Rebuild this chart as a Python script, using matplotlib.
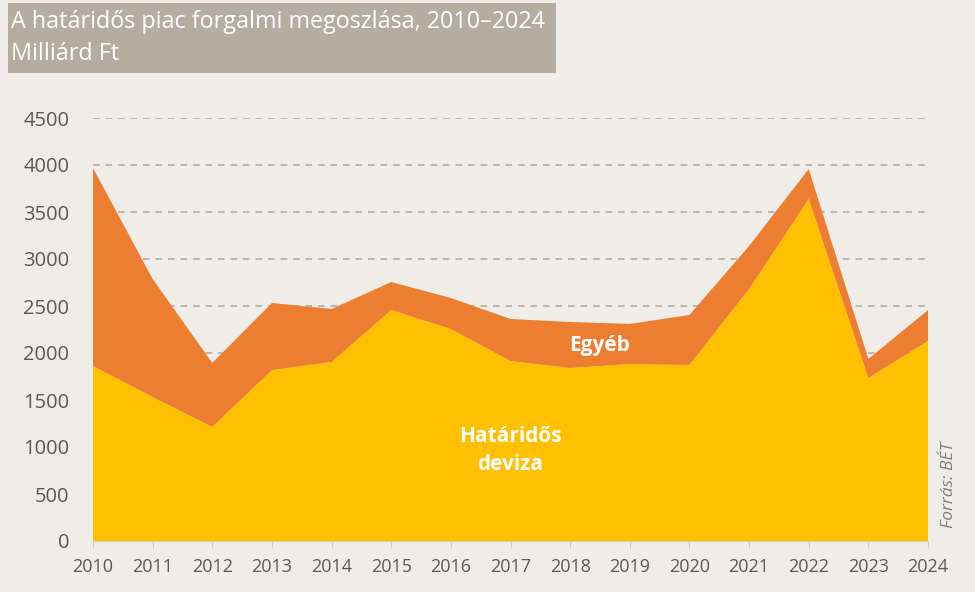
import matplotlib.pyplot as plt
from matplotlib.patches import Rectangle

plt.rcParams['font.family'] = ['Open Sans', 'DejaVu Sans']

# adatok (milliárd Ft)
years = list(range(2010, 2025))
hataridos_deviza = [1862, 1532, 1213, 1819, 1904, 2457, 2255, 1915, 1840, 1883, 1872, 2681, 3638, 1734, 2128]
osszesen = [3968, 2787, 1894, 2532, 2468, 2755, 2585, 2362, 2330, 2309, 2404, 3138, 3957, 1936, 2457]
egyeb = [t - h for t, h in zip(osszesen, hataridos_deviza)]
yticks = [0, 500, 1000, 1500, 2000, 2500, 3000, 3500, 4000, 4500]

bg = "#F0EDE9"
fig = plt.figure(figsize=(9.75, 5.92), dpi=100, facecolor=bg)
ax = fig.add_axes([93/975, 51/592, 835/975, 423/592], facecolor=bg)

ax.stackplot(years, hataridos_deviza, egyeb, colors=["#FFC000", "#ED7D31"], zorder=2)

ax.set_xlim(2010, 2024)
ax.set_ylim(0, 4500)
ax.set_xticks(years)
ax.set_yticks(yticks)
ax.yaxis.grid(True, linestyle=(0, (4, 3.5)), color="#B3ADA6", linewidth=1.2, zorder=1)
for s in ["top", "right", "left"]:
    ax.spines[s].set_visible(False)
ax.spines["bottom"].set_color("#D0CCC6")
ax.tick_params(axis="x", colors="#D0CCC6", length=5, labelcolor="#595959", labelsize=13, pad=7)
ax.tick_params(axis="y", length=0, labelcolor="#595959", labelsize=14.5, pad=17)

ax.text(2018.5, 2080, "Egyéb", color="white", fontsize=15, fontweight="bold", ha="center", va="center")
ax.text(2017, 960, "Határidős\ndeviza", color="white", fontsize=15, fontweight="bold",
        ha="center", va="center", linespacing=1.45)

fig.text(949/975, 1 - 485/592, "Forrás: BÉT", rotation=90, style="italic", color="#7F7F7F",
         fontsize=12.5, ha="center", va="center")

# cím doboz
fig.patches.append(Rectangle((8/975, 1 - 73/592), 548/975, 70/592, transform=fig.transFigure,
                             facecolor="#B5ACA2", edgecolor="none", zorder=0))
fig.text(11/975, 1 - 22/592, "A határidős piac forgalmi megoszlása, 2010–2024", color="white",
         fontsize=16.8, ha="left", va="center")
fig.text(11/975, 1 - 54/592, "Milliárd Ft", color="white", fontsize=16.8, ha="left", va="center")

fig.savefig("out.png", dpi=100, facecolor=bg)
